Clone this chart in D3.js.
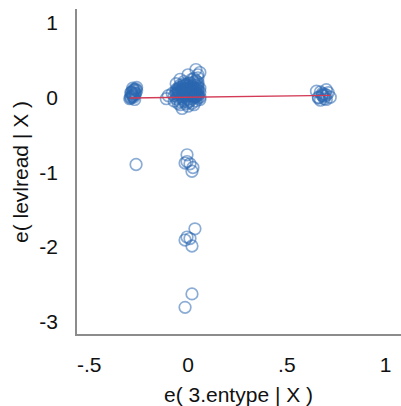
<!DOCTYPE html>
<html>
<head>
<meta charset="utf-8">
<script src="https://cdn.jsdelivr.net/npm/d3@7"></script>
<style>
  html, body { margin: 0; padding: 0; background: #fff; }
  svg { display: block; font-family: "Liberation Sans", Arial, sans-serif; }
</style>
</head>
<body>
<svg id="chart" width="401" height="406"></svg>
<script>
// Added-variable plot: residuals of levlread vs residuals of 3.entype
const residX = [
  // group near -0.29
  -0.29, -0.28, -0.27, -0.26, -0.295, -0.275, -0.265, -0.285, -0.27,
  -0.28, -0.29, -0.275, -0.265, -0.285, -0.27, -0.26, -0.28, -0.29,
  -0.27, -0.28, -0.275, -0.285,
  // central group
  0.04, 0.05, 0.06, 0.03, -0.04, -0.02, 0.05, 0.06, 0.00, -0.06,
  -0.08, -0.10, -0.11, -0.07, -0.04, -0.03, 0.00, 0.02, 0.04, 0.06,
  0.05, 0.03, 0.01, -0.01, -0.02, -0.03, -0.05, 0.00, 0.02, 0.04,
  -0.01, 0.02, -0.05, 0.06, 0.01, -0.02, 0.03, 0.00, -0.06, 0.04,
  -0.07, -0.06, -0.05, -0.04, -0.03, -0.02, -0.01, 0.00, 0.01, 0.02,
  0.03, 0.04, 0.05, -0.06, -0.05, -0.04, -0.03, -0.02, -0.01, 0.00,
  0.01, 0.02, 0.03, 0.04, 0.05, 0.06, -0.04, -0.02, 0.00, 0.02,
  0.04, -0.03, -0.01, 0.01, 0.03, 0.05, -0.05, -0.02, 0.01, 0.03,
  0.05, 0.04, 0.02, -0.01, -0.04, 0.03, 0.01, -0.03, 0.05, 0.02,
  -0.06, -0.03, 0.00, 0.03, 0.05, -0.04, -0.01, 0.02, 0.04, -0.02,
  0.01, 0.03, -0.05, 0.00, 0.04, -0.03, 0.02, 0.05, -0.01, 0.03,
  -0.05, -0.02, 0.01, 0.04, -0.04, -0.01, 0.02, 0.05, -0.03, 0.00,
  0.03, -0.02, 0.01, 0.04, -0.05, 0.02, -0.01, 0.03, 0.00, -0.03,
  // group near 0.68
  0.66, 0.68, 0.70, 0.67, 0.69, 0.72, 0.65, 0.70,
  0.68, 0.71, 0.66, 0.69, 0.67, 0.70, 0.68, 0.69,
  // low outliers
  -0.263,
  -0.005, -0.005, -0.015, 0.01, 0.025, 0.02,
  0.035, -0.005, -0.015, 0.01, 0.02,
  0.02, -0.015
];
const residY = [
  0.00, 0.04, 0.10, 0.13, -0.02, 0.00, 0.05, 0.07, -0.03,
  0.02, 0.06, 0.08, 0.11, 0.01, 0.03, 0.09, 0.12, -0.01,
  0.05, 0.02, 0.10, 0.06,
  0.37, 0.30, 0.33, 0.25, 0.24, 0.18, 0.20, 0.12, 0.15, 0.10,
  0.05, 0.02, -0.02, -0.05, -0.10, -0.15, -0.12, -0.08, -0.05, 0.00,
  0.05, 0.08, 0.05, 0.00, 0.05, -0.02, 0.03, -0.03, 0.02, 0.10,
  0.10, 0.15, -0.08, -0.03, -0.05, -0.06, 0.20, 0.30, 0.18, 0.04,
  0.02, 0.08, 0.12, 0.06, 0.10, 0.03, 0.07, 0.11, 0.02, 0.09,
  0.13, 0.16, 0.09, -0.02, 0.00, 0.04, 0.07, 0.09, 0.12, 0.06,
  0.10, 0.04, 0.01, 0.06, 0.14, 0.07, -0.06, -0.04, -0.07, 0.11,
  0.02, 0.14, 0.17, 0.19, 0.04, -0.01, 0.06, 0.21, 0.13, 0.06,
  0.26, 0.22, 0.24, -0.09, 0.16, -0.10, 0.08, 0.01, 0.17, -0.02,
  0.05, 0.01, 0.04, 0.09, 0.11, 0.13, 0.03, 0.07, 0.01, 0.15,
  0.12, 0.00, 0.08, 0.18, 0.06, 0.05, 0.10, 0.03, 0.16, 0.11,
  0.07, 0.10, 0.03, 0.12, 0.08, 0.05, 0.14, 0.02, 0.09, 0.04,
  0.06, 0.12, 0.08, 0.01, 0.10, 0.05, 0.03, 0.09, 0.07, 0.11,
  0.00, 0.05, 0.03, -0.04, -0.02, 0.00, 0.08, 0.10,
  0.02, 0.06, -0.01, 0.04, 0.07, -0.03, 0.03, 0.01,
  -0.90,
  -0.77, -0.86, -0.88, -0.89, -0.94, -0.99,
  -1.76, -1.87, -1.91, -1.89, -1.99,
  -2.63, -2.81
];

// linear fit through the residuals
const fitSlope = 0.035;
const fitIntercept = 0.0;

const xTicks = [-0.5, 0, 0.5, 1];
const xTickLabels = ["-.5", "0", ".5", "1"];
const yTicks = [-3, -2, -1, 0, 1];
const yTickLabels = ["-3", "-2", "-1", "0", "1"];

const xTitle = "e( 3.entype | X )";
const yTitle = "e( levlread | X )";

const svg = d3.select("#chart");
const plotLeft = 76, plotRight = 401, plotTop = 9, plotBottom = 335;

const x = d3.scaleLinear().domain([-0.567, 1.078]).range([plotLeft, plotRight]);
const y = d3.scaleLinear().domain([-3.18, 1.18]).range([plotBottom, plotTop]);

// axis lines
svg.append("line")
  .attr("x1", plotLeft).attr("x2", plotLeft).attr("y1", plotTop).attr("y2", plotBottom + 1)
  .attr("stroke", "#8c8c8c").attr("stroke-width", 2);
svg.append("line")
  .attr("x1", plotLeft - 1).attr("x2", plotRight).attr("y1", plotBottom).attr("y2", plotBottom)
  .attr("stroke", "#8c8c8c").attr("stroke-width", 2);

// y tick labels
svg.append("g").selectAll("text").data(yTicks).join("text")
  .attr("x", 58)
  .attr("y", d => y(d))
  .attr("dy", "0.36em")
  .attr("text-anchor", "end")
  .attr("font-size", 21)
  .attr("fill", "#111")
  .text((d, i) => yTickLabels[i]);

// x tick labels
svg.append("g").selectAll("text").data(xTicks).join("text")
  .attr("x", d => x(d))
  .attr("y", 372)
  .attr("text-anchor", "middle")
  .attr("font-size", 21)
  .attr("fill", "#111")
  .text((d, i) => xTickLabels[i]);

// axis titles
svg.append("text")
  .attr("x", (plotLeft + plotRight) / 2)
  .attr("y", 402)
  .attr("text-anchor", "middle")
  .attr("font-size", 21)
  .attr("fill", "#111")
  .text(xTitle);
svg.append("text")
  .attr("transform", `translate(28,${(plotTop + plotBottom) / 2}) rotate(-90)`)
  .attr("text-anchor", "middle")
  .attr("font-size", 21)
  .attr("fill", "#111")
  .text(yTitle);

// scatter of hollow markers
const pts = residX.map((v, i) => ({ x: v, y: residY[i] }));
svg.append("g").selectAll("circle").data(pts).join("circle")
  .attr("cx", d => x(d.x))
  .attr("cy", d => y(d.y))
  .attr("r", 5.8)
  .attr("fill", "none")
  .attr("stroke", "#2c68b0")
  .attr("stroke-opacity", 0.55)
  .attr("stroke-width", 1.7);

// fitted line across the range of the residuals
const [xmin, xmax] = d3.extent(residX);
svg.append("line")
  .attr("x1", x(xmin)).attr("y1", y(fitIntercept + fitSlope * xmin))
  .attr("x2", x(xmax)).attr("y2", y(fitIntercept + fitSlope * xmax))
  .attr("stroke", "#d23a55")
  .attr("stroke-width", 1.3);
</script>
</body>
</html>
